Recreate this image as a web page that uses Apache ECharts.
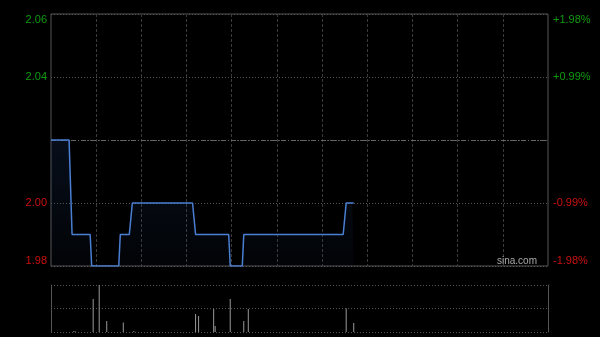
<!DOCTYPE html>
<html>
<head>
<meta charset="utf-8">
<script src="https://cdn.jsdelivr.net/npm/echarts@6/dist/echarts.min.js"></script>
<style>
html,body{margin:0;padding:0;background:#000;}
#c{width:600px;height:337px;}
</style>
</head>
<body>
<div id="c"></div>
<script>
// previous close
var prevClose = 2.02;
// tick values and labels
var priceTicks = [1.98, 2.00, 2.02, 2.04, 2.06];
var leftLabels = ['1.98', '2.00', '', '2.04', '2.06'];
var rightLabels = ['-1.98%', '-0.99%', '', '+0.99%', '+1.98%'];
// price per minute (index 0 = 09:30)
var prices = [
2.02,2.02,2.02,2.02,2.02,2.02,2.02,2.02,2.02,2.02,2.02,2.02,2.02,2.02,
1.99,1.99,1.99,1.99,1.99,1.99,1.99,1.99,1.99,1.99,1.99,1.99,1.99,
1.98,1.98,1.98,1.98,1.98,1.98,1.98,1.98,1.98,1.98,1.98,1.98,1.98,1.98,1.98,1.98,1.98,1.98,1.98,
1.99,1.99,1.99,1.99,1.99,1.99,1.99,1.99,
2.00,2.00,2.00,2.00,2.00,2.00,2.00,2.00,2.00,2.00,2.00,2.00,2.00,2.00,2.00,2.00,2.00,2.00,2.00,2.00,2.00,
2.00,2.00,2.00,2.00,2.00,2.00,2.00,2.00,2.00,2.00,2.00,2.00,2.00,2.00,2.00,2.00,2.00,2.00,2.00,2.00,2.00,
1.99,1.99,1.99,1.99,1.99,1.99,1.99,1.99,1.99,1.99,1.99,1.99,1.99,1.99,1.99,1.99,1.99,1.99,1.99,1.99,1.99,1.99,1.99,
1.98,1.98,1.98,1.98,1.98,1.98,1.98,1.98,1.98,
1.99,1.99,1.99,1.99,1.99,1.99,1.99,1.99,1.99,1.99,1.99,1.99,1.99,1.99,1.99,1.99,1.99,
1.99,1.99,1.99,1.99,1.99,1.99,1.99,1.99,1.99,1.99,1.99,1.99,1.99,1.99,1.99,1.99,1.99,
1.99,1.99,1.99,1.99,1.99,1.99,1.99,1.99,1.99,1.99,1.99,1.99,1.99,1.99,1.99,1.99,1.99,
1.99,1.99,1.99,1.99,1.99,1.99,1.99,1.99,1.99,1.99,1.99,1.99,1.99,1.99,1.99,1.99,1.99,
2.00,2.00,2.00,2.00,2.00,2.00
];
// volume: minute index and value
var volMinutes = [15, 16, 28, 32, 37, 48, 55, 96, 98, 108, 109, 119, 128, 131, 196, 201];
var volValues  = [1500, 1500, 66000, 94000, 22000, 19000, 2000, 36000, 32000, 46000, 12000, 66000, 22000, 46000, 47000, 18000];
var volMax = 94000;

// minute categories for a HK trading day (09:30-12:00, 13:00-16:00)
var minutes = [];
(function(){
  function fmt(h,m){return (h<10?'0':'')+h+':'+(m<10?'0':'')+m;}
  var h=9,m=30;
  while(!(h===12&&m===0)){minutes.push(fmt(h,m)); m++; if(m===60){m=0;h++;}}
  h=13;m=0;
  while(!(h===16&&m===1)){minutes.push(fmt(h,m)); m++; if(m===60){m=0;h++;}}
})();
// sina layout: 11 divisions of 30 minutes over 331 points
var volData = volMinutes.map(function(idx,i){return [idx, volValues[i]];});

function tickIndex(v){
  for (var i=0;i<priceTicks.length;i++){ if (Math.abs(priceTicks[i]-v)<1e-6) return i; }
  return -1;
}
function labelColor(v){
  if (v > prevClose + 1e-6) return '#109a10';
  if (v < prevClose - 1e-6) return '#cc1010';
  return '#888';
}

var chart = echarts.init(document.getElementById('c'), null, {renderer:'canvas'});
var font = 'Liberation Sans, Arial, sans-serif';
chart.setOption({
  backgroundColor: '#000',
  animation: false,
  grid: [
    {left:51, top:14, width:497, height:252, show:true, borderColor:'#555', borderWidth:1, backgroundColor:'transparent'},
    {left:51, top:285, width:497, height:47}
  ],
  xAxis: [
    {type:'category', gridIndex:0, data:minutes, boundaryGap:false,
     axisLine:{show:false}, axisTick:{show:false}, axisLabel:{show:false},
     splitLine:{show:true, interval:function(i){return i>0 && i<330 && i%30===0;},
                lineStyle:{color:'#3a3a3a', type:[3,2], width:1}}},
    {type:'category', gridIndex:1, data:minutes, boundaryGap:false,
     axisLine:{show:false}, axisTick:{show:false}, axisLabel:{show:false}, splitLine:{show:false}}
  ],
  yAxis: [
    {type:'value', gridIndex:0, min:1.98, max:2.06, interval:0.02, position:'left',
     axisLine:{show:false}, axisTick:{show:false},
     axisLabel:{show:true, margin:4, fontSize:11, fontFamily:font,
       verticalAlignMaxLabel:'top', verticalAlignMinLabel:'bottom',
       formatter:function(v){var i=tickIndex(v); return i>=0?leftLabels[i]:'';},
       color:function(v){return labelColor(v);}},
     splitLine:{show:true, lineStyle:{color:'#555', type:[1,2], width:1}}},
    {type:'value', gridIndex:0, min:1.98, max:2.06, interval:0.02, position:'right',
     axisLine:{show:false}, axisTick:{show:false},
     axisLabel:{show:true, margin:5, fontSize:11, fontFamily:font,
       verticalAlignMaxLabel:'top', verticalAlignMinLabel:'bottom',
       formatter:function(v){var i=tickIndex(v); return i>=0?rightLabels[i]:'';},
       color:function(v){return labelColor(v);}},
     splitLine:{show:false}},
    {type:'value', gridIndex:1, min:0, max:volMax, interval:volMax/2, position:'left',
     axisLine:{show:true, lineStyle:{color:'#555', width:1}}, axisTick:{show:false}, axisLabel:{show:false},
     splitLine:{show:true, lineStyle:{color:'#555', type:[1,2], width:1}}},
    {type:'value', gridIndex:1, min:0, max:volMax, interval:volMax/2, position:'right',
     axisLine:{show:true, lineStyle:{color:'#555', width:1}}, axisTick:{show:false}, axisLabel:{show:false},
     splitLine:{show:false}}
  ],
  graphic: [
    {type:'text', right:63, top:256, style:{text:'sina.com', fill:'#aaa', font:'10px Liberation Sans, Arial, sans-serif'}, z:100}
  ],
  series: [
    {type:'line', xAxisIndex:0, yAxisIndex:0, data:prices, symbol:'none', smooth:false,
     lineStyle:{color:'#4a7fd4', width:1.5},
     areaStyle:{origin:'start', color:new echarts.graphic.LinearGradient(0,0,0,1,[
       {offset:0, color:'rgba(40,80,150,0.25)'},{offset:1, color:'rgba(40,80,150,0.06)'}])},
     markLine:{silent:true, symbol:'none', label:{show:false},
       lineStyle:{color:'#666', type:[5,2,1,2], width:1},
       data:[{yAxis:prevClose}]},
     z:5},
    {type:'bar', xAxisIndex:1, yAxisIndex:2, data:volData, barWidth:1,
     itemStyle:{color:'#999'}}
  ]
});
</script>
</body>
</html>
